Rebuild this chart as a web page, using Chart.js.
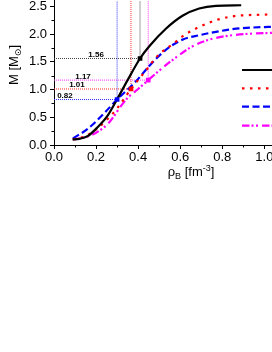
<!DOCTYPE html>
<html>
<head>
<meta charset="utf-8">
<script src="https://cdn.jsdelivr.net/npm/chart.js@4.4.1/dist/chart.umd.min.js"></script>
<style>
html, body { margin: 0; padding: 0; background: #fff; overflow: hidden; width: 272px; height: 352px; }
#wrap { position: absolute; left: 0; top: -10px; width: 330px; height: 230px; }
</style>
</head>
<body>
<div id="wrap"><canvas id="massChart" width="330" height="230"></canvas></div>
<script>
// mass-density curves (rho_B in fm^-3, M in solar masses)
const rhoBlack = [0.088, 0.12, 0.16, 0.207, 0.255, 0.295, 0.35, 0.409, 0.453, 0.533, 0.611, 0.69, 0.77, 0.89];
const massBlack = [0.10, 0.11, 0.16, 0.32, 0.53, 0.79, 1.17, 1.56, 1.78, 2.10, 2.33, 2.46, 2.51, 2.52];

const rhoRed = [0.09, 0.15, 0.2, 0.25, 0.3, 0.366, 0.43, 0.493, 0.572, 0.611, 0.691, 0.77, 0.849, 0.99, 1.15];
const massRed = [0.10, 0.16, 0.28, 0.45, 0.66, 1.01, 1.31, 1.61, 1.84, 1.96, 2.13, 2.25, 2.32, 2.35, 2.36];

const rhoBlue = [0.09, 0.16, 0.24, 0.30, 0.35, 0.39, 0.454, 0.533, 0.611, 0.691, 0.77, 0.849, 1.02, 1.15];
const massBlue = [0.12, 0.29, 0.58, 0.82, 1.0, 1.15, 1.43, 1.72, 1.90, 1.98, 2.04, 2.09, 2.13, 2.14];

const rhoMagenta = [0.09, 0.15, 0.2, 0.263, 0.318, 0.35, 0.40, 0.448, 0.5, 0.58, 0.659, 0.738, 0.849, 1.02, 1.15];
const massMagenta = [0.10, 0.14, 0.22, 0.41, 0.70, 0.85, 1.01, 1.17, 1.34, 1.58, 1.78, 1.90, 1.98, 2.02, 2.03];

// marked points (black, red, blue, magenta)
const markRho = [0.409, 0.366, 0.30, 0.448];
const markMass = [1.56, 1.01, 0.82, 1.17];

// axis ticks
const xTicks = [0, 0.2, 0.4, 0.6, 0.8, 1.0, 1.2];
const yTicks = [0, 0.5, 1.0, 1.5, 2.0, 2.5];

const FONT = 'Arial, "Liberation Sans", "DejaVu Sans", sans-serif';
const colors = ["#000000", "#ff0000", "#0000ff", "#ff00ff"];
const refColors = ["#404040", "#ff2a2a", "#3030ff", "#ff30ff"];
const Y_TOP = 2.6;

function pts(xs, ys) {
    return xs.map((v, i) => ({ x: v, y: ys[i] }));
}

const curves = [
    { data: pts(rhoBlack, massBlack), borderDash: [] },
    { data: pts(rhoRed, massRed), borderDash: [2.5, 5.5] },
    { data: pts(rhoBlue, massBlue), borderDash: [7, 3.5] },
    { data: pts(rhoMagenta, massMagenta), borderDash: [7.5, 2, 2, 2.5, 2, 4] }
].map((c, i) => ({
    data: c.data,
    borderColor: colors[i],
    borderWidth: 2.2,
    borderDash: c.borderDash,
    pointRadius: 0,
    cubicInterpolationMode: "monotone",
    fill: false,
    order: 2
}));

// dotted guide lines from the axis to the marker and up
const guides = markRho.map((r, i) => ({
    data: [{ x: 0, y: markMass[i] }, { x: r, y: markMass[i] }, { x: r, y: Y_TOP }],
    borderColor: refColors[i],
    borderWidth: 1,
    borderDash: [1, 1],
    pointRadius: 0,
    tension: 0,
    fill: false,
    order: 3
}));

const markers = markRho.map((r, i) => ({
    data: [{ x: r, y: markMass[i] }],
    showLine: false,
    pointStyle: "rect",
    pointRadius: 3.3,
    pointBackgroundColor: colors[i],
    pointBorderColor: colors[i],
    pointBorderWidth: 0,
    order: 1
}));

/**
 * minor ticks, axis titles, guide labels, legend samples
 */
const extras = {
    id: "extras",
    afterDraw(chart) {
        const { ctx, scales: { x, y } } = chart;
        ctx.save();

        // minor ticks
        ctx.strokeStyle = "#000";
        ctx.lineWidth = 1;
        for (let k = 1; k < 12; k += 2) {
            const px = Math.round(x.getPixelForValue(k / 10)) + 0.5;
            ctx.beginPath();
            ctx.moveTo(px, y.bottom);
            ctx.lineTo(px, y.bottom + 2.5);
            ctx.stroke();
        }
        for (let k = 1; k < 10; k += 2) {
            const py = Math.round(y.getPixelForValue(k / 4)) + 0.5;
            ctx.beginPath();
            ctx.moveTo(x.left, py);
            ctx.lineTo(x.left - 2.5, py);
            ctx.stroke();
        }

        // guide labels
        const labelRho = [0.2, 0.109, 0.052, 0.138];
        ctx.font = "bold 8px " + FONT;
        ctx.fillStyle = "#000";
        ctx.textAlign = "center";
        ctx.textBaseline = "alphabetic";
        markMass.forEach((m, i) => {
            ctx.fillText(m.toFixed(2), x.getPixelForValue(labelRho[i]), y.getPixelForValue(m) - 1.5);
        });

        // axis titles with sub/superscripts
        function drawPieces(pieces, cx, cy) {
            let w = 0;
            pieces.forEach(p => {
                ctx.font = p.size + "px " + FONT;
                p.w = ctx.measureText(p.t).width;
                w += p.w;
            });
            let cur = cx - w / 2;
            ctx.textAlign = "left";
            ctx.textBaseline = "alphabetic";
            pieces.forEach(p => {
                ctx.font = p.size + "px " + FONT;
                ctx.fillText(p.t, cur, cy + (p.dy || 0));
                cur += p.w;
            });
        }

        drawPieces([
            { t: "\u03C1", size: 13 },
            { t: "B", size: 9, dy: 3 },
            { t: " [fm", size: 13 },
            { t: "-3", size: 9, dy: -5 },
            { t: "]", size: 13 }
        ], 191, 186);

        ctx.save();
        ctx.translate(18, 75);
        ctx.rotate(-Math.PI / 2);
        drawPieces([
            { t: "M [M", size: 13 },
            { t: "\u2299", size: 9, dy: 3 },
            { t: "]", size: 13 }
        ], 0, 0);
        ctx.restore();

        // legend samples (text falls outside the window)
        const legendY = [80, 98.3, 116.7, 135.7];
        curves.forEach((c, i) => {
            ctx.strokeStyle = c.borderColor;
            ctx.lineWidth = c.borderWidth;
            ctx.setLineDash(c.borderDash);
            ctx.beginPath();
            ctx.moveTo(242, legendY[i]);
            ctx.lineTo(300, legendY[i]);
            ctx.stroke();
        });
        ctx.setLineDash([]);

        ctx.restore();
    }
};

function keepTicks(list) {
    return scale => {
        scale.ticks = list.map(v => ({ value: v }));
    };
}

new Chart(document.getElementById("massChart"), {
    type: "line",
    data: { datasets: [...guides, ...curves, ...markers] },
    options: {
        responsive: false,
        animation: false,
        devicePixelRatio: 1,
        events: [],
        layout: { padding: { top: 6.5, right: 23.6, left: 0, bottom: 0 } },
        plugins: {
            legend: { display: false },
            tooltip: { enabled: false }
        },
        scales: {
            x: {
                type: "linear",
                min: 0,
                max: 1.2,
                afterBuildTicks: keepTicks(xTicks),
                afterFit: s => { s.height = 75; },
                ticks: {
                    autoSkip: false,
                    maxRotation: 0,
                    padding: 1,
                    color: "#000",
                    font: { family: FONT, size: 13 },
                    callback: v => v.toFixed(1)
                },
                grid: { drawOnChartArea: false, drawTicks: true, tickLength: 4, color: "#000" },
                border: { display: true, color: "#000", width: 1 }
            },
            y: {
                type: "linear",
                min: 0,
                max: Y_TOP,
                afterBuildTicks: keepTicks(yTicks),
                afterFit: s => { s.width = 54; },
                ticks: {
                    autoSkip: false,
                    padding: 3,
                    color: "#000",
                    font: { family: FONT, size: 13 },
                    callback: v => v.toFixed(1)
                },
                grid: { drawOnChartArea: false, drawTicks: true, tickLength: 4, color: "#000" },
                border: { display: true, color: "#000", width: 1 }
            }
        }
    },
    plugins: [extras]
});
</script>
</body>
</html>
